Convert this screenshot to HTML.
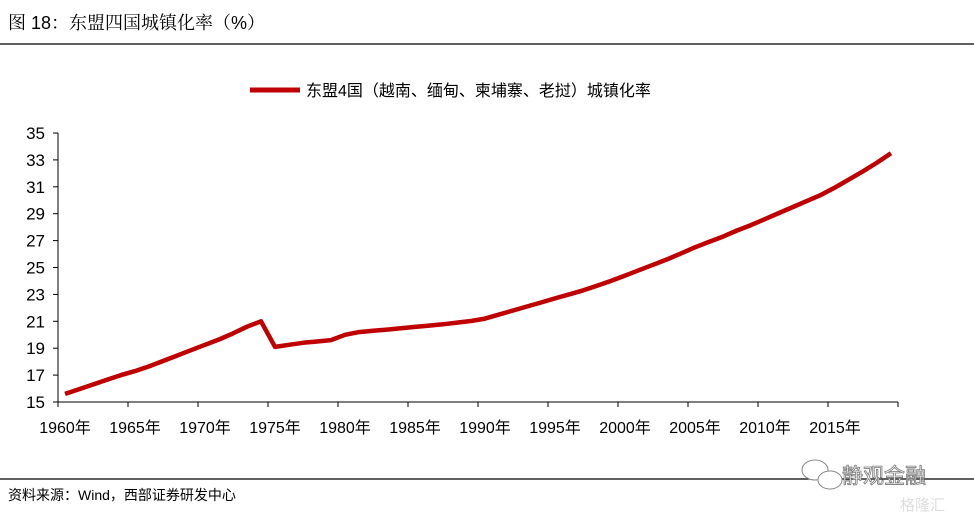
<!DOCTYPE html>
<html><head><meta charset="utf-8"><style>
body{margin:0;background:#fff;width:974px;height:519px;overflow:hidden;font-family:"Liberation Sans","Noto Sans CJK SC",sans-serif}
svg{position:absolute;left:0;top:0}
</style></head><body>
<svg width="974" height="519">
<text x="8" y="29" font-size="18" fill="#000" font-family="Liberation Sans, Noto Serif CJK SC, serif">图 18：东盟四国城镇化率（%）</text>
<line x1="0" y1="44" x2="974" y2="44" stroke="#000" stroke-width="1.2"/>
<g>
<line x1="250" y1="90" x2="300" y2="90" stroke="#c00000" stroke-width="5"/>
<text x="306" y="96" font-size="16" fill="#000">东盟4国（越南、缅甸、柬埔寨、老挝）城镇化率</text>
</g>
<g id="axes"></g>
<path id="series" fill="none" stroke="#c00000" stroke-width="4.5" stroke-linejoin="round"/>
<line x1="0" y1="479" x2="974" y2="479" stroke="#000" stroke-width="1.2"/>
<text x="8" y="500" font-size="14" fill="#000">资料来源：Wind，西部证券研发中心</text>
<g>
<ellipse cx="815" cy="470" rx="13" ry="10" fill="#fff" stroke="#888" stroke-width="1"/>
<ellipse cx="830" cy="480" rx="12" ry="9" fill="#fff" stroke="#888" stroke-width="1"/>
</g>
<text x="842" y="483" font-size="21" fill="#fff" stroke="#777" stroke-width="0.8">静观金融</text>
<text x="900" y="510" font-size="15" fill="#ddd">格隆汇</text>
</svg>
<script>
const years=[];for(let y=1960;y<=2019;y++)years.push(y);
const values=[15.6,15.95,16.3,16.65,17.0,17.3,17.65,18.05,18.45,18.85,19.25,19.65,20.1,20.6,21.0,19.1,19.25,19.4,19.5,19.6,20.0,20.2,20.3,20.38,20.48,20.58,20.68,20.78,20.9,21.02,21.2,21.5,21.8,22.1,22.4,22.7,23.0,23.3,23.65,24.0,24.4,24.8,25.2,25.6,26.05,26.5,26.9,27.3,27.75,28.15,28.6,29.05,29.5,29.95,30.4,30.95,31.55,32.15,32.8,33.5];
const yTicks=[15,17,19,21,23,25,27,29,31,33,35];
const xLabelYears=[1960,1965,1970,1975,1980,1985,1990,1995,2000,2005,2010,2015];
</script>
<script>
(function(){
const NS="http://www.w3.org/2000/svg";
const x0=58,x1=898,yTop=133,yBot=402;
const band=(x1-x0)/60;
const sx=i=>x0+band*(i+0.5);
const sy=v=>yBot-(v-15)/20*(yBot-yTop);
const g=document.getElementById('axes');
function el(t,a){const e=document.createElementNS(NS,t);for(const k in a)e.setAttribute(k,a[k]);g.appendChild(e);return e;}
let e=el('line',{x1:x0,y1:yTop,x2:x0,y2:yBot,stroke:'#000','stroke-width':1});


e=el('line',{x1:x0,y1:yBot,x2:x1,y2:yBot,stroke:'#000','stroke-width':1});


yTicks.forEach(v=>{
 const y=sy(v);
 let t=el('line',{x1:x0-5,y1:y,x2:x0,y2:y,stroke:'#000'});
 
 
 let l=el('text',{x:45,y:y+6,'font-size':17,'text-anchor':'end',fill:'#000'});
 l.textContent=v;
 
 
});
for(let k=0;k<=60;k+=5){
 const x=x0+band*k;
 let t=el('line',{x1:x,y1:yBot,x2:x,y2:yBot+5,stroke:'#000'});
 
 
}
xLabelYears.forEach(yr=>{
 const i=yr-years[0];
 let l=el('text',{x:sx(i),y:433,'font-size':16,'text-anchor':'middle',fill:'#000'});
 l.textContent=yr+'年';
 
 
});
const d=values.map((v,i)=>(i?'L':'M')+sx(i).toFixed(1)+','+sy(v).toFixed(1)).join('');
document.getElementById('series').setAttribute('d',d);
})();
</script>
</body></html>
